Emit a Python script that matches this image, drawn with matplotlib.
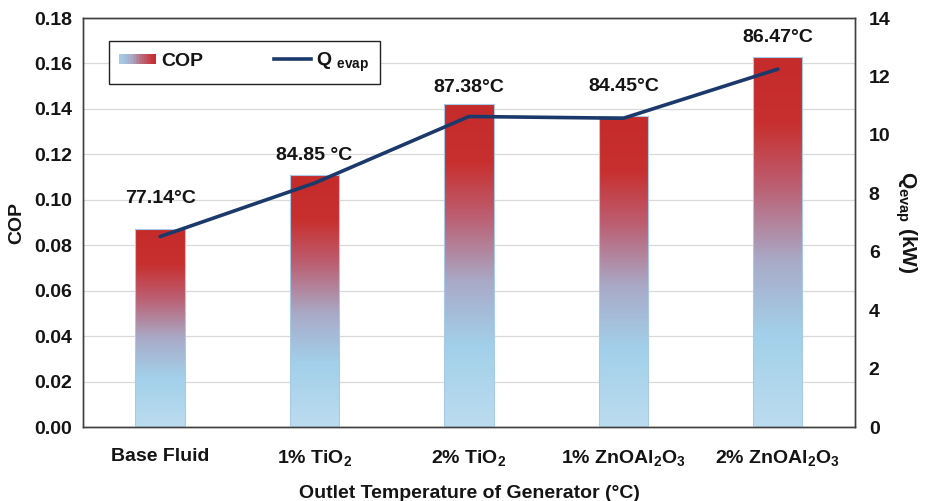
"""COP and evaporator load for the base fluid and four nanofluids.

Bars show COP (left axis) with a red-to-blue fill, the line shows Q_evap
(right axis), and each bar carries the generator outlet temperature.

Generates ``out.png``.
"""

import matplotlib.pyplot as plt
import numpy as np
from matplotlib.colors import LinearSegmentedColormap
from matplotlib.legend_handler import HandlerBase
from matplotlib.lines import Line2D
from matplotlib.patches import Rectangle

FLUIDS = ["Base Fluid", "1% TiO$_2$", "2% TiO$_2$", "1% ZnOAl$_2$O$_3$", "2% ZnOAl$_2$O$_3$"]
COP = [0.0871, 0.1109, 0.1421, 0.1369, 0.1628]
Q_EVAP = [6.52, 8.35, 10.63, 10.57, 12.25]
OUTLET_TEMPS = ["77.14°C", "84.85 °C", "87.38°C", "84.45°C", "86.47°C"]

# vertical nudges (points) for the temperature labels above the bars
LABEL_OFFSETS = [22, 14, 12, 21, 14]

TEXT = "#141414"
LINE_COLOR = "#1b3a6b"
BAR_CMAP = LinearSegmentedColormap.from_list(
    "cop_fill",
    [(0.0, "#bcdcef"), (0.25, "#a2d0ea"), (0.45, "#a9aac7"),
     (0.65, "#bc5f72"), (0.82, "#c8302f"), (1.0, "#c42b2a")],
)

plt.rcParams["font.family"] = ["Liberation Sans", "DejaVu Sans"]
plt.rcParams["font.weight"] = "bold"
plt.rcParams["mathtext.fontset"] = "custom"
plt.rcParams["mathtext.rm"] = "Liberation Sans:bold"
plt.rcParams["mathtext.it"] = "Liberation Sans:bold"
plt.rcParams["mathtext.bf"] = "Liberation Sans:bold"


class GradientHandler(HandlerBase):
    """Legend key filled with a left-to-right blue-to-red gradient."""

    def create_artists(self, legend, orig_handle, xdescent, ydescent,
                       width, height, fontsize, trans):
        n = 24
        artists = []
        for i in range(n):
            r = Rectangle((-xdescent + width * i / n, -ydescent + height * 0.1),
                          width / n + 0.3, height * 0.75,
                          facecolor=BAR_CMAP(0.25 + 0.6 * i / (n - 1)),
                          edgecolor="none", transform=trans)
            artists.append(r)
        return artists


fig = plt.figure(figsize=(9.26, 5.01), dpi=100)
ax = fig.add_axes([0.0896, 0.1477, 0.8337, 0.8163])
ax2 = ax.twinx()

x = np.arange(len(FLUIDS))
width = 0.32
bars = ax.bar(x, COP, width, facecolor="none", edgecolor="#a9c9e8", linewidth=0.8, zorder=3)
grad = np.linspace(0, 1, 256).reshape(-1, 1)
for rect, xi, h in zip(bars, x, COP):
    im = ax.imshow(grad, cmap=BAR_CMAP, origin="lower", aspect="auto",
                   extent=(xi - width / 2, xi + width / 2, 0, h), zorder=2)
    im.set_clip_path(rect)

for xi, h, lab, off in zip(x, COP, OUTLET_TEMPS, LABEL_OFFSETS):
    ax.annotate(lab, (xi, h), xytext=(0, off), textcoords="offset points",
                ha="center", va="center", fontsize=14, fontweight="bold", color=TEXT)

ax2.plot(x, Q_EVAP, color=LINE_COLOR, linewidth=2.6, solid_capstyle="round", zorder=4)

ax.set_xlim(-0.5, 4.5)
ax.set_ylim(0, 0.18)
ax.set_yticks(np.arange(0, 0.181, 0.02))
ax.set_yticklabels([f"{v:.2f}" for v in np.arange(0, 0.181, 0.02)])
ax2.set_ylim(0, 14)
ax2.set_yticks(np.arange(0, 15, 2))

ax.set_xticks(x)
ax.set_xticklabels(FLUIDS)
ax.tick_params(axis="both", length=0, labelsize=14, colors=TEXT, pad=8)
ax.tick_params(axis="x", pad=15)
ax2.tick_params(axis="y", length=0, labelsize=14, colors=TEXT, pad=10)

ax.grid(axis="y", color="#d9d9d9", linewidth=0.9)
ax.set_axisbelow(True)
for a in (ax, ax2):
    for s in a.spines.values():
        s.set_color("#404040")
        s.set_linewidth(1.0)

ax.set_xlabel("Outlet Temperature of Generator (°C)", fontsize=14, fontweight="bold",
              color=TEXT, labelpad=12)
ax.set_ylabel("COP", fontsize=14, fontweight="bold", color=TEXT, labelpad=6)
ax2.set_ylabel("Q$_{evap}$ (kW)", fontsize=15, fontweight="bold", color=TEXT,
               rotation=270, labelpad=20)

handles = [Rectangle((0, 0), 1, 1), Line2D([], [], color=LINE_COLOR, linewidth=2.6)]
labels = ["COP", "Q $_{\\mathbf{evap}}$"]
leg = ax2.legend(handles, labels, handler_map={Rectangle: GradientHandler()},
                 loc="upper left", bbox_to_anchor=(0.034, 0.944), ncol=2,
                 fontsize=14, frameon=True, fancybox=False, framealpha=1,
                 edgecolor="#222222", handlelength=1.9, columnspacing=3.6,
                 borderpad=0.5, handletextpad=0.3, borderaxespad=0)
leg.get_frame().set_linewidth(1.0)
for t in leg.get_texts():
    t.set_color(TEXT)

fig.savefig("out.png", dpi=100)
